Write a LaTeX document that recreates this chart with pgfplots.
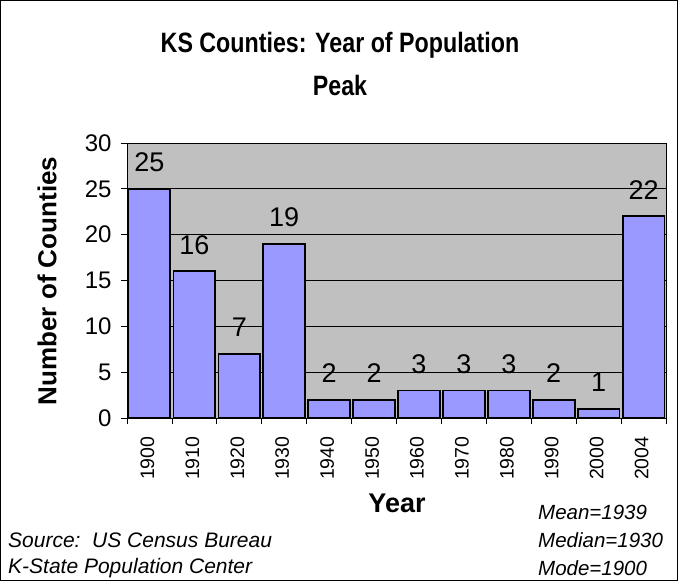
\documentclass[border=0pt]{standalone}
\usepackage{fontspec}
\setmainfont{Liberation Sans}
\usepackage{graphicx}
\usepackage{pgfplots}
\pgfplotsset{compat=1.18}
\definecolor{plotgray}{HTML}{C0C0C0}
\definecolor{barblue}{HTML}{9999FF}
\begin{document}
\begin{tikzpicture}[x=1bp,y=1bp]
\draw[line width=1.2bp] (0.6,-0.6) rectangle (677.4,-580.4);
\begin{axis}[
  at={(127bp,-418bp)}, anchor=south west,
  scale only axis, width=539bp, height=275bp,
  xmin=-0.5, xmax=11.5, ymin=0, ymax=30,
  axis background/.style={fill=plotgray},
  axis line style={black, line width=0.8bp},
  ytick={0,5,...,30},
  ymajorgrids, grid style={black, line width=0.7bp},
  xtick={0,...,11},
  xticklabels={1900,1910,1920,1930,1940,1950,1960,1970,1980,1990,2000,2004},
  minor xtick={-0.5,0.5,...,11.5},
  x tick style={draw=none},
  minor x tick style={draw=black, line width=0.8bp},
  y tick style={black, line width=0.8bp},
  tick align=outside, major tick length=6bp, minor tick length=6bp,
  tick pos=left,
  /pgf/number format/assume math mode=true,
  yticklabel style={font=\fontsize{24bp}{26bp}\selectfont, xshift=-6bp},
  xticklabel style={font=\fontsize{19.5bp}{22bp}\selectfont, yshift=-9bp, xshift=-2bp, rotate=90, anchor=east},
  ybar, bar width=0.93, bar shift=0,
  nodes near coords,
  every node near coord/.append style={font=\fontsize{27bp}{30bp}\selectfont, black, anchor=south, inner sep=0pt, yshift=16bp},
  clip=false,
]
\addplot[fill=barblue, draw=black, line width=1.8bp] coordinates {
(0,25) (1,16) (2,7) (3,19) (4,2) (5,2) (6,3) (7,3) (8,3) (9,2) (10,1) (11,22)};
\end{axis}
\node[font=\bfseries\fontsize{28bp}{40bp}\selectfont, align=center] at (340,-45) {\scalebox{0.83}[1]{KS Counties: Year of Population}};
\node[font=\bfseries\fontsize{28bp}{40bp}\selectfont, align=center] at (340,-85) {\scalebox{0.83}[1]{Peak}};
\node[font=\bfseries\fontsize{27bp}{30bp}\selectfont] at (397,-503) {Year};
\node[font=\bfseries\fontsize{26bp}{30bp}\selectfont, rotate=90] at (47,-281) {Number of Counties};
\node[font=\itshape\fontsize{21bp}{24bp}\selectfont, anchor=west, inner sep=0] at (8,-540) {Source:\ \ US Census Bureau};
\node[font=\itshape\fontsize{21bp}{24bp}\selectfont, anchor=west, inner sep=0] at (8,-568) {K-State Population Center};
\node[font=\itshape\fontsize{20.5bp}{24bp}\selectfont, anchor=west, inner sep=0] at (538,-512) {Mean=1939};
\node[font=\itshape\fontsize{20.5bp}{24bp}\selectfont, anchor=west, inner sep=0] at (538,-540) {Median=1930};
\node[font=\itshape\fontsize{20.5bp}{24bp}\selectfont, anchor=west, inner sep=0] at (538,-568) {Mode=1900};
\end{tikzpicture}
\end{document}
